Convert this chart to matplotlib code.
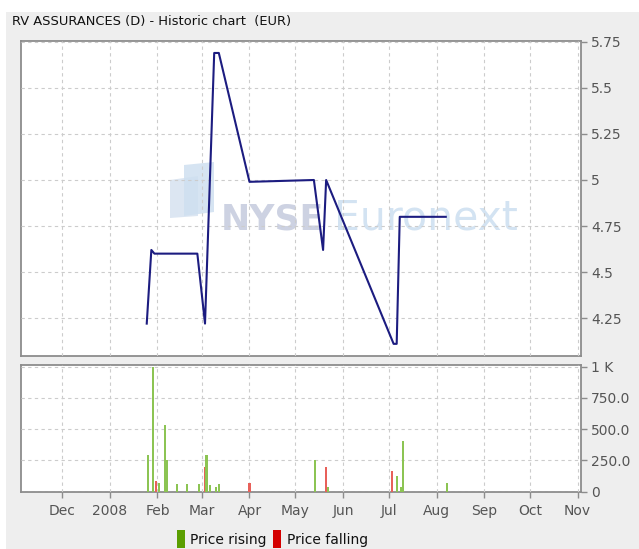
import matplotlib
matplotlib.use("Agg")
import matplotlib.pyplot as plt
import matplotlib.dates as mdates
from matplotlib.patches import Rectangle, Polygon
import numpy as np
import datetime as dt

# ---- data ----
price_dates = ["2008-01-25", "2008-01-28", "2008-01-30", "2008-02-27", "2008-03-03",
               "2008-03-09", "2008-03-12", "2008-04-01", "2008-05-13", "2008-05-19",
               "2008-05-21", "2008-07-04", "2008-07-06", "2008-07-08", "2008-08-07"]
price_values = [4.22, 4.62, 4.60, 4.60, 4.22, 5.69, 5.69, 4.99, 5.00, 4.62,
                5.00, 4.11, 4.11, 4.80, 4.80]

vol_dates = ["2008-01-26", "2008-01-29", "2008-01-31", "2008-02-02", "2008-02-06",
             "2008-02-07", "2008-02-14", "2008-02-20", "2008-02-28", "2008-03-03",
             "2008-03-04", "2008-03-06", "2008-03-10", "2008-03-12", "2008-04-01",
             "2008-05-14", "2008-05-21", "2008-05-22", "2008-07-03", "2008-07-06",
             "2008-07-09", "2008-07-10", "2008-08-08"]
vol_values = [290, 995, 85, 70, 535, 250, 60, 60, 60, 195,
              290, 50, 40, 60, 70, 255, 195, 40, 165, 125,
              40, 405, 70]
vol_dir = ["up", "up", "down", "up", "up", "up", "up", "up", "up", "down",
           "up", "up", "up", "up", "down", "up", "down", "up", "down", "up",
           "up", "up", "up"]

month_ticks = ["2007-12-01", "2008-01-01", "2008-02-01", "2008-03-01", "2008-04-01",
               "2008-05-01", "2008-06-01", "2008-07-01", "2008-08-01", "2008-09-01",
               "2008-10-01", "2008-11-01"]
month_labels = ["Dec", "2008", "Feb", "Mar", "Apr", "May", "Jun", "Jul", "Aug",
                "Sep", "Oct", "Nov"]
price_ticks = [4.25, 4.5, 4.75, 5.0, 5.25, 5.5, 5.75]
price_labels = ["4.25", "4.5", "4.75", "5", "5.25", "5.5", "5.75"]
vol_ticks = [0, 250, 500, 750, 1000]
vol_labels = ["0", "250.0", "500.0", "750.0", "1 K"]

title = "RV ASSURANCES (D) - Historic chart  (EUR)"

# ---- figure ----
W, H = 639, 549
fig = plt.figure(figsize=(W / 100, H / 100), dpi=100)
fig.patch.set_facecolor("white")
fig.patches.append(Rectangle((6 / W, 0), 1 - 6 / W, 1 - 12 / H, transform=fig.transFigure,
                             facecolor="#eeeeee", edgecolor="none", zorder=-10))

def fx(px):
    return px / W

def fy(py):
    return 1 - py / H

left, right = 21, 580.7
ax = fig.add_axes([fx(left), fy(356), fx(right) - fx(left), fy(41) - fy(356)])
axv = fig.add_axes([fx(left), fy(491.5), fx(right) - fx(left), fy(364.7) - fy(491.5)])

pd_ = [dt.datetime.strptime(d, "%Y-%m-%d") for d in price_dates]
vd_ = [dt.datetime.strptime(d, "%Y-%m-%d") for d in vol_dates]
mt_ = [dt.datetime.strptime(d, "%Y-%m-%d") for d in month_ticks]

xmin = dt.datetime(2007, 11, 4)
xmax = dt.datetime(2008, 11, 3)

grid_kw = dict(color="#cccccc", linestyle=(0, (3, 3)), linewidth=0.8, zorder=1)
tick_color = "#555555"
spine_color = "#8c8c8c"

for a in (ax, axv):
    a.set_facecolor("white")
    a.set_xlim(xmin, xmax)
    a.set_xticks(mdates.date2num(mt_))
    a.grid(True, **grid_kw)
    a.set_axisbelow(False)
    for s in a.spines.values():
        s.set_color(spine_color)
        s.set_linewidth(1.3)
    a.yaxis.tick_right()
    a.tick_params(axis="both", colors=spine_color, labelcolor=tick_color,
                  labelsize=10, length=4, width=1, direction="out")

# watermark (inside the price axes, beneath grid and line)
logo1 = Polygon([[fx(170), fy(180)], [fx(198), fy(176)], [fx(198), fy(216)], [fx(170), fy(218)]],
                closed=True, transform=fig.transFigure, facecolor="#dce6f2", edgecolor="none", zorder=0.3)
logo2 = Polygon([[fx(184), fy(165)], [fx(214), fy(162)], [fx(214), fy(212)], [fx(184), fy(216)]],
                closed=True, transform=fig.transFigure, facecolor="#cfe0f0", edgecolor="none",
                alpha=0.85, zorder=0.3)
ax.add_artist(logo1)
ax.add_artist(logo2)
ax.text(fx(221), fy(219), "NYSE", fontsize=25, fontweight="bold", color="#cdd2e2",
        va="center", ha="left", zorder=0.4, family="DejaVu Sans", transform=fig.transFigure)
ax.text(fx(334), fy(219), "Euronext", fontsize=29.5, color="#d3e3f2",
        va="center", ha="left", zorder=0.4, family="DejaVu Sans", transform=fig.transFigure)

# price line
ax.plot(mdates.date2num(pd_), price_values, color="#1c1c80", linewidth=1.5, zorder=3)
ax.set_ylim(4.044, 5.755)
ax.set_yticks(price_ticks)
ax.set_yticklabels(price_labels)
ax.tick_params(axis="x", labelbottom=False, length=0)

# volume bars
colors = ["#8cc453" if d == "up" else "#e8605a" for d in vol_dir]
axv.bar(mdates.date2num(vd_), vol_values, width=1.4, color=colors, zorder=3)
axv.set_ylim(0, 1015)
axv.set_yticks(vol_ticks)
axv.set_yticklabels(vol_labels)
axv.set_xticklabels(month_labels)
axv.tick_params(axis="x", pad=5)

# title
fig.text(fx(12), fy(22), title, fontsize=9.4, color="#111111", va="center", ha="left")

# legend
fig.patches.append(Rectangle((fx(177), fy(548)), fx(8), 18 / H, transform=fig.transFigure,
                             facecolor="#5a9e00", edgecolor="none"))
fig.text(fx(190), fy(540), "Price rising", fontsize=10, color="#111111", va="center", ha="left")
fig.patches.append(Rectangle((fx(273), fy(548)), fx(8), 18 / H, transform=fig.transFigure,
                             facecolor="#d40000", edgecolor="none"))
fig.text(fx(287), fy(540), "Price falling", fontsize=10, color="#111111", va="center", ha="left")

fig.savefig("out.png", dpi=100, facecolor=fig.get_facecolor())
